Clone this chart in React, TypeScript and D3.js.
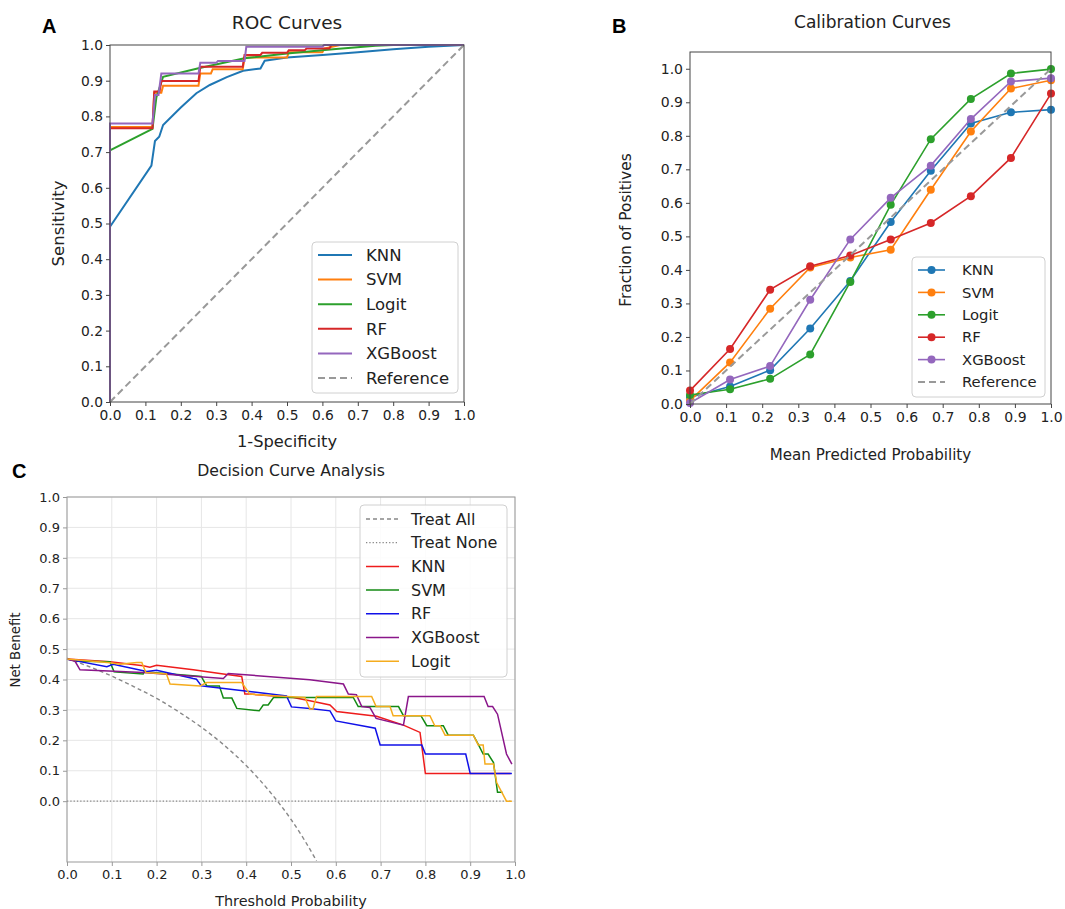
import React, { useRef, useEffect } from "react";
import * as d3 from "d3";

const FONT = "DejaVu Sans, Verdana, sans-serif";

// ---------- ROC (panel A) ----------
const rocModels = ["KNN", "SVM", "Logit", "RF", "XGBoost"];
const rocColors = ["#1f77b4", "#ff7f0e", "#2ca02c", "#d62728", "#9467bd"];
const knnFpr = [0, 0, 0.117, 0.127, 0.139, 0.15, 0.2, 0.244, 0.282, 0.33, 0.376, 0.425, 0.437, 0.5, 0.6, 0.7, 0.8, 0.9, 1.0];
const knnTpr = [0, 0.491, 0.662, 0.731, 0.743, 0.776, 0.825, 0.865, 0.888, 0.91, 0.928, 0.934, 0.956, 0.965, 0.972, 0.98, 0.988, 0.995, 1.0];
const svmFpr = [0, 0, 0.12, 0.125, 0.145, 0.15, 0.25, 0.255, 0.285, 0.29, 0.375, 0.38, 0.5, 0.505, 0.6, 0.605, 0.65, 1.0];
const svmTpr = [0, 0.77, 0.77, 0.866, 0.866, 0.886, 0.886, 0.92, 0.92, 0.932, 0.932, 0.965, 0.965, 0.98, 0.98, 0.99, 1.0, 1.0];
const logitFpr = [0, 0, 0.12, 0.131, 0.15, 0.25, 0.38, 0.5, 0.63, 0.75, 0.8, 1.0];
const logitTpr = [0, 0.705, 0.765, 0.853, 0.911, 0.935, 0.963, 0.976, 0.988, 0.998, 1.0, 1.0];
const rfFpr = [0, 0, 0.12, 0.125, 0.14, 0.145, 0.25, 0.255, 0.375, 0.38, 0.425, 0.43, 0.5, 0.505, 0.55, 0.555, 0.62, 0.625, 1];
const rfTpr = [0, 0.767, 0.767, 0.87, 0.87, 0.899, 0.899, 0.939, 0.939, 0.972, 0.972, 0.978, 0.978, 0.985, 0.985, 0.99, 0.99, 1.0, 1.0];
const xgbFpr = [0, 0, 0.12, 0.127, 0.137, 0.145, 0.25, 0.255, 0.3, 0.305, 0.38, 0.385, 0.6, 0.605, 1];
const xgbTpr = [0, 0.78, 0.78, 0.86, 0.86, 0.92, 0.92, 0.95, 0.95, 0.955, 0.955, 0.995, 0.995, 1.0, 1.0];

// ---------- Calibration (panel B) ----------
const calibBins = [0, 0.111, 0.222, 0.333, 0.444, 0.556, 0.667, 0.778, 0.889, 1.0];
const calibKnn = [0.02, 0.052, 0.101, 0.225, 0.367, 0.543, 0.696, 0.837, 0.87, 0.878];
const calibSvm = [0.01, 0.124, 0.284, 0.407, 0.437, 0.46, 0.639, 0.813, 0.941, 0.966];
const calibLogit = [0.027, 0.044, 0.075, 0.148, 0.364, 0.594, 0.79, 0.91, 0.986, 0.999];
const calibRf = [0.04, 0.164, 0.341, 0.411, 0.443, 0.491, 0.54, 0.62, 0.734, 0.926];
const calibXgb = [0.003, 0.073, 0.113, 0.311, 0.491, 0.615, 0.711, 0.85, 0.962, 0.972];

// ---------- Decision curves (panel C) ----------
const dcaModels = ["KNN", "SVM", "RF", "XGBoost", "Logit"];
const dcaColors = ["#ee1c1c", "#138a13", "#1010e8", "#8a168a", "#f5ac1e"];
const dcaAllX = [0, 0.05, 0.1, 0.15, 0.2, 0.25, 0.3, 0.35, 0.4, 0.45, 0.5, 0.53, 0.557];
const dcaAllY = [0.47, 0.442, 0.411, 0.376, 0.338, 0.293, 0.243, 0.185, 0.117, 0.036, -0.06, -0.128, -0.196];
const dcaNoneX = [0, 0.99];
const dcaNoneY = [0, 0];
const dcaKnnX = [0, 0.096, 0.17, 0.185, 0.2, 0.282, 0.349, 0.39, 0.397, 0.408, 0.505, 0.542, 0.587, 0.602, 0.691, 0.751, 0.788, 0.8, 0.99];
const dcaKnnY = [0.467, 0.458, 0.445, 0.44, 0.447, 0.432, 0.418, 0.41, 0.352, 0.352, 0.341, 0.33, 0.316, 0.295, 0.279, 0.25, 0.226, 0.091, 0.091];
const dcaSvmX = [0, 0.022, 0.096, 0.105, 0.17, 0.172, 0.3, 0.304, 0.312, 0.34, 0.349, 0.368, 0.379, 0.429, 0.438, 0.449, 0.461, 0.639, 0.65, 0.74, 0.751, 0.79, 0.803, 0.84, 0.851, 0.907, 0.918, 0.929, 0.94, 0.952, 0.961, 0.972];
const dcaSvmY = [0.467, 0.46, 0.458, 0.425, 0.418, 0.425, 0.41, 0.399, 0.379, 0.379, 0.339, 0.339, 0.305, 0.297, 0.316, 0.316, 0.341, 0.341, 0.311, 0.311, 0.281, 0.281, 0.248, 0.248, 0.217, 0.217, 0.187, 0.155, 0.155, 0.127, 0.029, 0.029];
const dcaRfX = [0, 0.089, 0.103, 0.178, 0.2, 0.282, 0.289, 0.3, 0.312, 0.49, 0.501, 0.542, 0.587, 0.6, 0.688, 0.699, 0.792, 0.8, 0.89, 0.9, 0.993];
const dcaRfY = [0.467, 0.442, 0.45, 0.426, 0.43, 0.403, 0.401, 0.379, 0.377, 0.346, 0.31, 0.305, 0.297, 0.264, 0.24, 0.185, 0.185, 0.155, 0.155, 0.091, 0.091];
const dcaXgbX = [0, 0.018, 0.029, 0.17, 0.349, 0.36, 0.542, 0.617, 0.628, 0.646, 0.658, 0.676, 0.69, 0.751, 0.762, 0.931, 0.94, 0.95, 0.961, 0.981, 0.993];
const dcaXgbY = [0.467, 0.46, 0.432, 0.423, 0.403, 0.42, 0.399, 0.385, 0.352, 0.35, 0.311, 0.308, 0.272, 0.25, 0.344, 0.344, 0.311, 0.311, 0.286, 0.155, 0.122];
const dcaLogitX = [0, 0.096, 0.118, 0.156, 0.167, 0.176, 0.222, 0.23, 0.297, 0.312, 0.39, 0.408, 0.49, 0.531, 0.542, 0.549, 0.557, 0.68, 0.69, 0.721, 0.728, 0.81, 0.821, 0.833, 0.844, 0.907, 0.918, 0.929, 0.933, 0.952, 0.959, 0.981, 0.993];
const dcaLogitY = [0.467, 0.455, 0.45, 0.456, 0.456, 0.423, 0.418, 0.385, 0.379, 0.39, 0.39, 0.352, 0.344, 0.341, 0.303, 0.303, 0.344, 0.344, 0.311, 0.311, 0.281, 0.281, 0.248, 0.248, 0.217, 0.217, 0.185, 0.185, 0.122, 0.122, 0.061, 0.0, 0.0];

const ticks01 = d3.range(0, 11).map((i) => i / 10);

const zip = (xs: number[], ys: number[]) => xs.map((x, i) => [x, ys[i]] as [number, number]);

function axes(g: any, x: any, y: any, o: any) {
  const fmt = d3.format(".1f");
  const gx = g.append("g").attr("transform", `translate(0,${o.bottom})`)
    .call(d3.axisBottom(x).tickValues(ticks01).tickFormat(fmt).tickSize(4).tickPadding(4));
  const gy = g.append("g").attr("transform", `translate(${o.left},0)`)
    .call(d3.axisLeft(y).tickValues(ticks01).tickFormat(fmt).tickSize(4).tickPadding(3));
  [gx, gy].forEach((a) => {
    a.select(".domain").remove();
    a.selectAll("line").attr("stroke", o.spine);
    a.selectAll("text").attr("font-family", FONT).attr("font-size", o.tick).attr("fill", "#222");
  });
}

function frame(g: any, o: any) {
  g.append("rect").attr("x", o.left).attr("y", o.top)
    .attr("width", o.right - o.left).attr("height", o.bottom - o.top)
    .attr("fill", "none").attr("stroke", o.spine).attr("stroke-width", 1);
}

function label(svg: any, txt: string, x: number, y: number, size: number, extra: any = {}) {
  const t = svg.append("text").attr("x", x).attr("y", y).attr("text-anchor", "middle")
    .attr("font-family", FONT).attr("font-size", size).attr("fill", "#222").text(txt);
  if (extra.rotate) t.attr("transform", `rotate(-90,${x},${y})`);
  if (extra.bold) t.attr("font-family", "Liberation Sans, Arial, sans-serif").attr("font-weight", "bold").attr("text-anchor", "start").attr("fill", "#000");
  return t;
}

function legend(g: any, items: any[], o: any) {
  g.append("rect").attr("x", o.x).attr("y", o.y).attr("width", o.w).attr("height", o.h)
    .attr("rx", 4).attr("fill", "white").attr("fill-opacity", 0.85).attr("stroke", "#d0d0d0");
  items.forEach((it, i) => {
    const cy = o.y0 + i * o.step;
    g.append("line").attr("x1", o.lx).attr("x2", o.lx + o.lw).attr("y1", cy).attr("y2", cy)
      .attr("stroke", it.color).attr("stroke-width", it.width || 2)
      .attr("stroke-dasharray", it.dash || null);
    if (it.marker) g.append("circle").attr("cx", o.lx + o.lw / 2).attr("cy", cy).attr("r", 4).attr("fill", it.color);
    g.append("text").attr("x", o.tx).attr("y", cy).attr("dy", "0.35em")
      .attr("font-family", FONT).attr("font-size", o.font).attr("fill", "#222").text(it.name);
  });
}

export default function App() {
  const svgRef = useRef<SVGSVGElement>(null);

  useEffect(() => {
    const svg = d3.select(svgRef.current);
    svg.selectAll("*").remove();

    // ===== Panel A =====
    const A = { left: 110, right: 464, top: 45, bottom: 402, spine: "#444", tick: 13.8 };
    const xa = d3.scaleLinear().domain([0, 1]).range([A.left, A.right]);
    const ya = d3.scaleLinear().domain([0, 1]).range([A.bottom, A.top]);
    const ga = svg.append("g");
    const lineA = d3.line().x((d: any) => xa(d[0])).y((d: any) => ya(d[1]));
    const rocSeries = [zip(knnFpr, knnTpr), zip(svmFpr, svmTpr), zip(logitFpr, logitTpr), zip(rfFpr, rfTpr), zip(xgbFpr, xgbTpr)];
    rocSeries.forEach((s, i) => {
      ga.append("path").attr("d", lineA(s)).attr("fill", "none").attr("stroke", rocColors[i]).attr("stroke-width", 2);
    });
    ga.append("path").attr("d", lineA([[0, 0], [1, 1]])).attr("fill", "none")
      .attr("stroke", "#999").attr("stroke-width", 2).attr("stroke-dasharray", "7,4");
    frame(ga, A);
    axes(ga, xa, ya, A);
    legend(ga, [...rocModels.map((m, i) => ({ name: m, color: rocColors[i] })), { name: "Reference", color: "#999", dash: "7,4" }],
      { x: 312, y: 242, w: 146, h: 151, y0: 255, step: 24.6, lx: 318, lw: 34, tx: 366, font: 16.5 });
    label(svg, "ROC Curves", (A.left + A.right) / 2, 29, 18.5);
    label(svg, "1-Specificity", (A.left + A.right) / 2, 447, 16.3);
    label(svg, "Sensitivity", 64, (A.top + A.bottom) / 2, 16.5, { rotate: true });
    label(svg, "A", 42, 33, 20, { bold: true });

    // ===== Panel B =====
    const B = { left: 690, right: 1051, top: 52, bottom: 404, spine: "#444", tick: 14 };
    const xb = d3.scaleLinear().domain([0, 1]).range([B.left, B.right]);
    const yb = d3.scaleLinear().domain([0, 1.05]).range([B.bottom, B.top]);
    const gb = svg.append("g");
    const lineB = d3.line().x((d: any) => xb(d[0])).y((d: any) => yb(d[1]));
    const calibSeries = [calibKnn, calibSvm, calibLogit, calibRf, calibXgb];
    calibSeries.forEach((vals, i) => {
      const pts = zip(calibBins, vals);
      gb.append("path").attr("d", lineB(pts)).attr("fill", "none").attr("stroke", rocColors[i]).attr("stroke-width", 1.6);
      gb.selectAll(null).data(pts).join("circle")
        .attr("cx", (d: any) => xb(d[0])).attr("cy", (d: any) => yb(d[1])).attr("r", 4).attr("fill", rocColors[i]);
    });
    gb.append("path").attr("d", lineB([[0, 0], [1, 1]])).attr("fill", "none")
      .attr("stroke", "#999").attr("stroke-width", 2).attr("stroke-dasharray", "7,4");
    frame(gb, B);
    axes(gb, xb, yb, B);
    legend(gb, [...rocModels.map((m, i) => ({ name: m, color: rocColors[i], marker: true, width: 1.6 })), { name: "Reference", color: "#999", dash: "7,4" }],
      { x: 912, y: 257, w: 133, h: 140, y0: 270, step: 22.4, lx: 918, lw: 27, tx: 962, font: 14.8 });
    label(svg, "Calibration Curves", (B.left + B.right) / 2 + 2, 28, 17);
    label(svg, "Mean Predicted Probability", (B.left + B.right) / 2, 460, 15.1);
    label(svg, "Fraction of Positives", 631, (B.top + B.bottom) / 2 + 2, 15.4, { rotate: true });
    label(svg, "B", 612, 33, 20, { bold: true });

    // ===== Panel C =====
    const C = { left: 67, right: 515, top: 497, bottom: 862, spine: "#999", tick: 13 };
    const xc = d3.scaleLinear().domain([0, 1]).range([C.left, C.right]);
    const yc = d3.scaleLinear().domain([-0.2, 1.0]).range([C.bottom, C.top]);
    const gc = svg.append("g");
    ticks01.forEach((t) => {
      gc.append("line").attr("x1", xc(t)).attr("x2", xc(t)).attr("y1", C.top).attr("y2", C.bottom).attr("stroke", "#e6e6e6");
      gc.append("line").attr("x1", C.left).attr("x2", C.right).attr("y1", yc(t)).attr("y2", yc(t)).attr("stroke", "#e6e6e6");
    });
    const lineC = d3.line().x((d: any) => xc(d[0])).y((d: any) => yc(d[1]));
    gc.append("path").attr("d", lineC.curve(d3.curveMonotoneX)(zip(dcaAllX, dcaAllY))).attr("fill", "none")
      .attr("stroke", "#888").attr("stroke-width", 1.4).attr("stroke-dasharray", "4,3");
    lineC.curve(d3.curveLinear);
    gc.append("path").attr("d", lineC(zip(dcaNoneX, dcaNoneY))).attr("fill", "none")
      .attr("stroke", "#888").attr("stroke-width", 1.3).attr("stroke-dasharray", "1.3,2");
    const dcaSeries = [zip(dcaKnnX, dcaKnnY), zip(dcaSvmX, dcaSvmY), zip(dcaRfX, dcaRfY), zip(dcaXgbX, dcaXgbY), zip(dcaLogitX, dcaLogitY)];
    dcaSeries.forEach((s, i) => {
      gc.append("path").attr("d", lineC(s)).attr("fill", "none").attr("stroke", dcaColors[i]).attr("stroke-width", 1.5);
    });
    frame(gc, C);
    axes(gc, xc, yc, C);
    legend(gc, [
      { name: "Treat All", color: "#888", dash: "4,3", width: 1.4 },
      { name: "Treat None", color: "#888", dash: "1.3,2", width: 1.3 },
      ...dcaModels.map((m, i) => ({ name: m, color: dcaColors[i], width: 1.5 })),
    ], { x: 360, y: 505, w: 147, h: 172, y0: 519, step: 23.7, lx: 366, lw: 33, tx: 411, font: 16 });
    label(svg, "Decision Curve Analysis", (C.left + C.right) / 2, 476, 15.7);
    label(svg, "Threshold Probability", (C.left + C.right) / 2, 906, 14.4);
    label(svg, "Net Benefit", 20, 650, 13.3, { rotate: true });
    label(svg, "C", 12, 478, 20, { bold: true });
  }, []);

  return (
    <svg ref={svgRef} width={1065} height={909}
      style={{ position: "absolute", left: 0, top: 0, background: "white" }} />
  );
}
